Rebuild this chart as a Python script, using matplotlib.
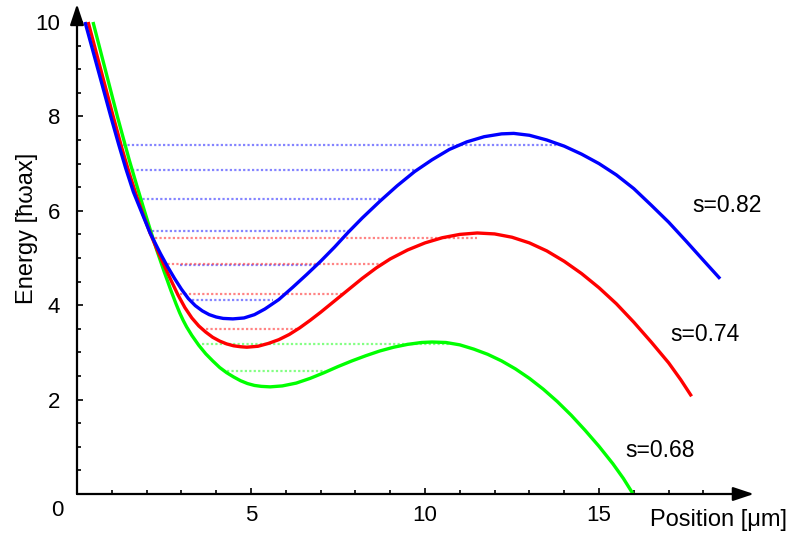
import matplotlib
matplotlib.use("Agg")
import matplotlib.pyplot as plt
from matplotlib.ticker import FixedLocator

# ---- data ----
blue_x = [0.23, 0.60, 0.97, 1.20, 1.40, 1.62, 1.84, 2.10, 2.40, 2.60, 2.80, 3.00, 3.20, 3.40,
          3.60, 3.80, 4.00, 4.20, 4.48, 4.80, 5.10, 5.40, 5.80, 6.20, 6.60, 7.00, 7.40, 7.80,
          8.20, 8.70, 9.20, 9.70, 10.20, 10.70, 11.20, 11.70, 12.20, 12.55, 13.00, 13.50,
          14.00, 14.50, 15.00, 15.50, 16.00, 16.50, 17.00, 17.50, 18.00, 18.48]
blue_y = [10.0, 9.0, 8.0, 7.4, 6.9, 6.4, 6.0, 5.53, 5.09, 4.82, 4.57, 4.34, 4.14, 3.99,
          3.88, 3.80, 3.75, 3.72, 3.71, 3.73, 3.80, 3.92, 4.12, 4.38, 4.65, 4.93, 5.23, 5.55,
          5.85, 6.20, 6.53, 6.83, 7.08, 7.30, 7.46, 7.57, 7.63, 7.64, 7.60, 7.50,
          7.37, 7.20, 7.00, 6.76, 6.47, 6.12, 5.76, 5.36, 4.95, 4.56]

red_x = [0.32, 0.68, 1.04, 1.30, 1.50, 1.70, 1.90, 2.10, 2.30, 2.50, 2.70, 2.90, 3.10, 3.30,
         3.50, 3.70, 3.90, 4.10, 4.30, 4.50, 4.70, 4.88, 5.20, 5.50, 5.80, 6.10, 6.40, 6.70,
         7.00, 7.40, 7.80, 8.20, 8.60, 9.00, 9.50, 10.00, 10.50, 11.00, 11.50, 12.00, 12.50,
         13.00, 13.50, 14.00, 14.50, 15.00, 15.50, 16.00, 16.50, 17.00, 17.35, 17.66]
red_y = [10.0, 9.0, 8.0, 7.30, 6.80, 6.34, 5.92, 5.53, 5.18, 4.85, 4.53, 4.22, 3.95, 3.73,
         3.56, 3.43, 3.32, 3.24, 3.18, 3.14, 3.12, 3.11, 3.13, 3.19, 3.27, 3.38, 3.52, 3.68,
         3.85, 4.09, 4.33, 4.57, 4.79, 4.98, 5.17, 5.32, 5.43, 5.50, 5.53, 5.51, 5.44,
         5.32, 5.15, 4.93, 4.67, 4.37, 4.03, 3.64, 3.22, 2.78, 2.42, 2.07]

green_x = [0.46, 0.81, 1.16, 1.50, 1.70, 1.90, 2.10, 2.30, 2.50, 2.70, 2.85, 2.95, 3.05, 3.15,
           3.30, 3.50, 3.70, 3.90, 4.10, 4.30, 4.50, 4.70, 4.90, 5.10, 5.30, 5.55, 5.90, 6.30,
           6.70, 7.10, 7.50, 7.90, 8.30, 8.70, 9.10, 9.50, 9.90, 10.20, 10.60, 11.00, 11.40,
           11.80, 12.20, 12.60, 13.00, 13.40, 13.80, 14.20, 14.60, 15.00, 15.40, 15.70, 15.98]
green_y = [10.0, 9.0, 8.0, 7.08, 6.58, 6.09, 5.61, 5.15, 4.72, 4.31, 4.02, 3.84, 3.68, 3.54,
           3.36, 3.15, 2.97, 2.82, 2.68, 2.57, 2.48, 2.40, 2.34, 2.30, 2.28, 2.27, 2.29, 2.35,
           2.45, 2.57, 2.70, 2.82, 2.93, 3.03, 3.11, 3.17, 3.21, 3.22, 3.21, 3.16, 3.07,
           2.96, 2.82, 2.65, 2.45, 2.22, 1.96, 1.67, 1.35, 1.01, 0.64, 0.33, 0.00]

blue_E = [7.39, 6.86, 6.24, 5.58, 4.86, 4.10]
blue_x0 = [1.32, 1.57, 1.75, 2.15, 2.96, 3.30]
blue_x1 = [13.94, 9.71, 8.71, 7.79, 6.93, 5.63]

red_E = [5.42, 4.87, 4.23, 3.50]
red_x0 = [2.24, 2.48, 2.96, 3.72]
red_x1 = [11.50, 8.85, 7.65, 6.31]

green_E = [3.17, 2.61]
green_x0 = [3.58, 4.30]
green_x1 = [10.72, 7.13]

labels = ["s=0.82", "s=0.74", "s=0.68"]
label_x = [18.68, 18.05, 16.75]
label_y = [6.12, 3.37, 0.92]

x_major = [5, 10, 15]
y_major = [2, 4, 6, 8, 10]

# ---- figure ----
fig = plt.figure(figsize=(7.97, 5.37), dpi=100)
ax = fig.add_axes([77 / 797, 43 / 537, 20 * 34.8 / 797, 10.4 * 47.2 / 537])
ax.set_xlim(0, 20)
ax.set_ylim(0, 10.4)

lvl = dict(linestyles=(0, (1, 1)), lw=1.6, alpha=0.6)
for E, a, b in zip(blue_E, blue_x0, blue_x1):
    ax.hlines(E, a, b, colors="#3333ff", **lvl)
for E, a, b in zip(red_E, red_x0, red_x1):
    ax.hlines(E, a, b, colors="#ff3333", **lvl)
for E, a, b in zip(green_E, green_x0, green_x1):
    ax.hlines(E, a, b, colors="#33ff33", **lvl)

ax.plot(green_x, green_y, color="#00ff00", lw=2.4, solid_capstyle="butt", solid_joinstyle="round")
ax.plot(red_x, red_y, color="#ff0000", lw=2.4, solid_capstyle="butt", solid_joinstyle="round")
ax.plot(blue_x, blue_y, color="#0000ff", lw=2.4, solid_capstyle="butt", solid_joinstyle="round")

for t, x, y in zip(labels, label_x, label_y):
    ax.text(x, y, t, ha="center", va="center", fontsize=16.5, family="Liberation Sans")

for s in ["top", "right", "left", "bottom"]:
    ax.spines[s].set_visible(False)

arrow = dict(arrowstyle="-|>,head_length=0.9,head_width=0.3", color="black", lw=1.6,
             shrinkA=0, shrinkB=0, mutation_scale=14)
ax.annotate("", xy=(19.45, 0), xytext=(0, 0), arrowprops=arrow, annotation_clip=False)
ax.annotate("", xy=(0, 10.38), xytext=(0, 0), arrowprops=arrow, annotation_clip=False)

ax.xaxis.set_major_locator(FixedLocator(x_major))
ax.xaxis.set_minor_locator(FixedLocator([i for i in range(1, 19) if i not in x_major]))
ax.yaxis.set_major_locator(FixedLocator(y_major))
ax.yaxis.set_minor_locator(FixedLocator([i * 0.5 for i in range(1, 20) if i % 4 != 0]))
ax.tick_params(which="both", direction="in", width=1.2, colors="black")
ax.tick_params(which="major", length=4)
ax.tick_params(which="minor", length=3)
ax.tick_params(axis="x", which="major", pad=8, labelsize=16)
ax.tick_params(axis="y", which="major", pad=12, labelsize=16)
for lab in ax.get_xticklabels() + ax.get_yticklabels():
    lab.set_family("Liberation Sans")

fig.text(57.5 / 797, 1 - 511 / 537, "0", ha="center", va="center", fontsize=16,
         family="Liberation Sans")
fig.text(719 / 797, 1 - 520 / 537, "Position [μm]", ha="center", va="center", fontsize=17,
         family=["Liberation Sans", "DejaVu Sans"])
fig.text(27 / 797, 1 - 228 / 537, "Energy [ħωax]", ha="center", va="center", fontsize=17,
         rotation=90, family=["Liberation Sans", "DejaVu Sans"])

fig.savefig("out.png", dpi=100)
